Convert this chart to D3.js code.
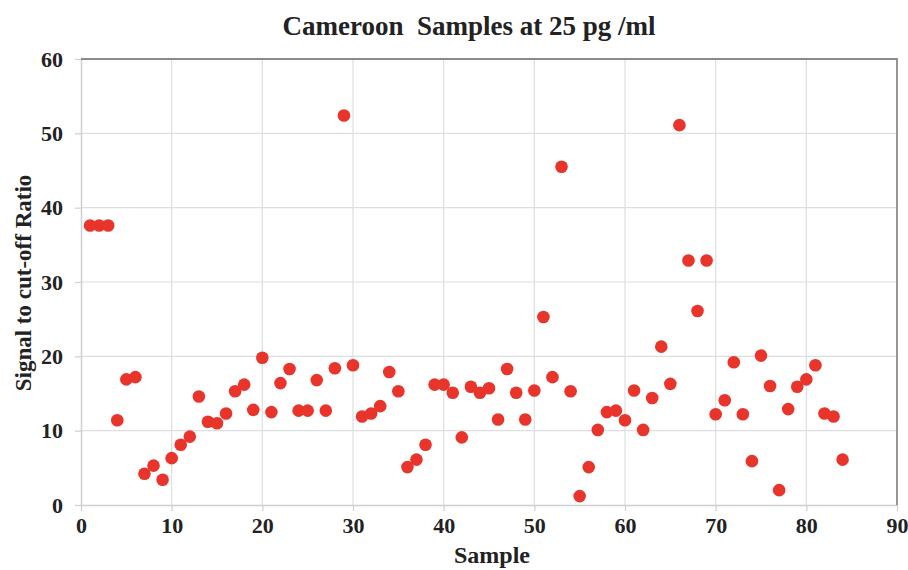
<!DOCTYPE html>
<html><head><meta charset="utf-8">
<script src="https://cdn.jsdelivr.net/npm/d3@7"></script>
<style>
body{margin:0;background:#fff;}
svg text{font-family:"Liberation Serif","Times New Roman",serif;font-weight:bold;fill:#222;}
</style></head>
<body><svg id="c" width="908" height="570"></svg>
<script>
const samples = d3.range(1, 85);
const ratios = [37.6,37.6,37.6,11.4,16.9,17.2,4.2,5.3,3.4,6.3,
8.1,9.2,14.6,11.2,11.0,12.3,15.3,16.2,12.8,19.8,
12.5,16.4,18.3,12.7,12.7,16.8,12.7,18.4,52.4,18.8,
11.9,12.3,13.3,17.9,15.3,5.1,6.1,8.1,16.2,16.2,
15.1,9.1,15.9,15.1,15.7,11.5,18.3,15.1,11.5,15.4,
25.3,17.2,45.5,15.3,1.2,5.1,10.1,12.5,12.7,11.4,
15.4,10.1,14.4,21.3,16.3,51.1,32.9,26.1,32.9,12.2,
14.1,19.2,12.2,5.9,20.1,16.0,2.0,12.9,15.9,16.9,
18.8,12.3,11.9,6.1];
const xTicks = [0,10,20,30,40,50,60,70,80,90];
const yTicks = [0,10,20,30,40,50,60];
const title = "Cameroon\u00a0 Samples at 25 pg /ml";
const xLabel = "Sample";
const yLabel = "Signal to cut-off Ratio";

const svg = d3.select("#c");
const L=81,R=897,T=59,B=505;
const x = d3.scaleLinear().domain([0,90]).range([L,R]);
const y = d3.scaleLinear().domain([0,60]).range([B,T]);

// gridlines
svg.append("g").selectAll("line").data(xTicks.slice(1,-1)).join("line")
 .attr("x1",d=>x(d)).attr("x2",d=>x(d)).attr("y1",T).attr("y2",B)
 .attr("stroke","#dedede").attr("stroke-width",1.2);
svg.append("g").selectAll("line").data(yTicks.slice(1,-1)).join("line")
 .attr("x1",L).attr("x2",R).attr("y1",d=>y(d)).attr("y2",d=>y(d))
 .attr("stroke","#dedede").attr("stroke-width",1.2);

// x axis
const xa = svg.append("g").attr("transform",`translate(0,${B})`)
 .call(d3.axisBottom(x).tickValues(xTicks).tickSize(6).tickSizeOuter(0).tickPadding(6));
xa.select(".domain").attr("stroke","#cfcfcf").attr("stroke-width",1.5);
xa.selectAll(".tick line").attr("stroke","#cfcfcf").attr("stroke-width",1.2);
xa.selectAll("text").style("font-size","22px").attr("fill","#222");

// y axis
const ya = svg.append("g").attr("transform",`translate(${L},0)`)
 .call(d3.axisLeft(y).tickValues(yTicks).tickSize(6).tickSizeOuter(0).tickPadding(12));
ya.select(".domain").attr("stroke","#cfcfcf").attr("stroke-width",1.5);
ya.selectAll(".tick line").attr("stroke","#cfcfcf").attr("stroke-width",1.2);
ya.selectAll("text").style("font-size","22px").attr("fill","#222");

// top & right border
svg.append("path").attr("d",`M${L},${T}H${R}V${B}`).attr("fill","none")
 .attr("stroke","#8a8a8a").attr("stroke-width",1.8);

// points
svg.append("g").selectAll("circle").data(samples).join("circle")
 .attr("cx",(d)=>x(d)).attr("cy",(d,i)=>y(ratios[i])).attr("r",6.3)
 .attr("fill","#e8342a");

// labels
svg.append("text").attr("x",469).attr("y",35).attr("text-anchor","middle")
 .style("font-size","27px").text(title);
svg.append("text").attr("x",492).attr("y",563).attr("text-anchor","middle")
 .style("font-size","24px").text(xLabel);
svg.append("text").attr("transform","translate(31,283) rotate(-90)").attr("text-anchor","middle")
 .style("font-size","23px").text(yLabel);
</script></body></html>
